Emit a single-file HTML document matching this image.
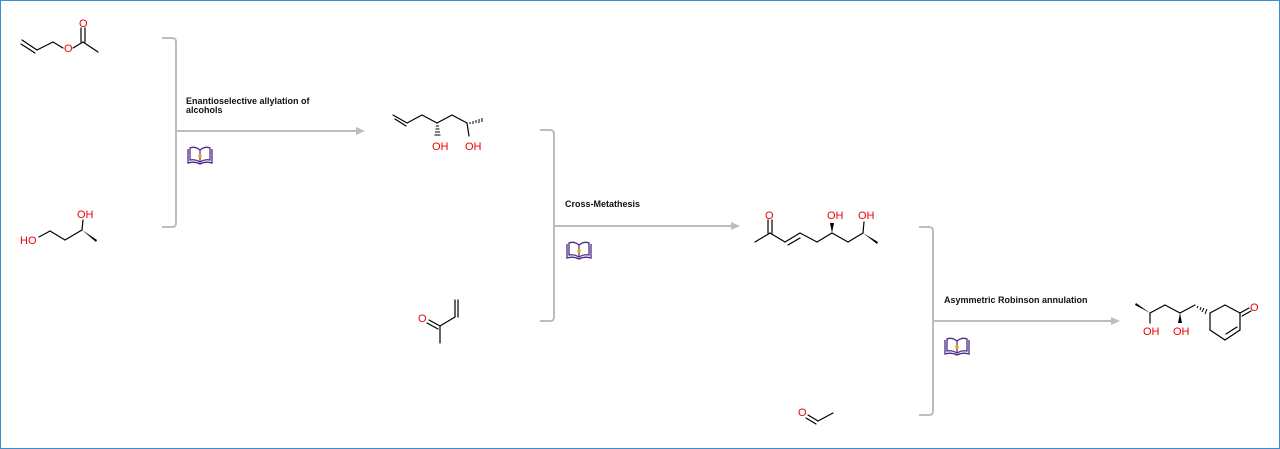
<!DOCTYPE html>
<html><head><meta charset="utf-8"><style>
html,body{margin:0;padding:0;background:#fff;}
svg{display:block;}
text{font-family:"Liberation Sans",Arial,sans-serif;}
</style></head><body>
<svg width="1280" height="449" viewBox="0 0 1280 449" xmlns="http://www.w3.org/2000/svg">
<defs>
<g id="book">
<path d="M1,3 L1,17 Q7,15 13,18 Q19,15 25,17 L25,3" fill="none" stroke="#4b2a8a" stroke-width="1.3"/>
<path d="M3,2 L3,14 Q8,13 13,16 Q18,13 23,14 L23,2 Q18,0 13,4 Q8,0 3,2 Z" fill="none" stroke="#4b2a8a" stroke-width="1.3"/>
<line x1="13" y1="4" x2="13" y2="16" stroke="#4b2a8a" stroke-width="1.2"/>
<circle cx="13" cy="10" r="1.8" fill="#f0a500"/>
</g>
</defs>
<rect x="0.5" y="0.5" width="1279" height="448" fill="#fff" stroke="#3a8fd0" stroke-width="1"/>
<g stroke="#bdbdbd" stroke-width="2" fill="none">
<path d="M162,38 H172 Q176,38 176,42 V223 Q176,227 172,227 H162"/>
<line x1="176" y1="131" x2="358" y2="131"/>
<path d="M540,130 H550 Q554,130 554,134 V317 Q554,321 550,321 H540"/>
<line x1="554" y1="226" x2="733" y2="226"/>
<path d="M919,227 H929 Q933,227 933,231 V411 Q933,415 929,415 H919"/>
<line x1="933" y1="321" x2="1113" y2="321"/>
</g>
<g fill="#bdbdbd">
<polygon points="365,131 356,127 356,135"/>
<polygon points="740,226 731,222 731,230"/>
<polygon points="1120,321 1111,317 1111,325"/>
</g>
<g font-size="9" font-weight="bold" fill="#111">
<text x="186" y="104">Enantioselective allylation of</text>
<text x="186" y="113">alcohols</text>
<text x="565" y="207">Cross-Metathesis</text>
<text x="944" y="303">Asymmetric Robinson annulation</text>
</g>
<use href="#book" x="187" y="146"/>
<use href="#book" x="566" y="241"/>
<use href="#book" x="944" y="337"/>

<g stroke="#000" stroke-width="1.2" fill="none" stroke-linecap="round">
<line x1="22" y1="40" x2="37" y2="50"/><line x1="21" y1="44" x2="35" y2="53"/>
<line x1="37" y1="50" x2="53" y2="42"/>
<line x1="53" y1="42" x2="63" y2="48"/>
<line x1="73" y1="48" x2="83" y2="42"/>
<line x1="83" y1="42" x2="98" y2="52"/>
<line x1="81" y1="42" x2="81" y2="28"/><line x1="85" y1="42" x2="85" y2="28"/>
<line x1="39" y1="237" x2="50" y2="231"/>
<line x1="50" y1="231" x2="65" y2="240"/>
<line x1="65" y1="240" x2="82" y2="230"/>
<line x1="82" y1="230" x2="83" y2="220"/>
<line x1="393" y1="115" x2="407" y2="123"/><line x1="395" y1="119" x2="406" y2="126"/>
<line x1="407" y1="123" x2="422" y2="115"/>
<line x1="422" y1="115" x2="437" y2="123"/>
<line x1="437" y1="123" x2="452" y2="115"/>
<line x1="452" y1="115" x2="467" y2="123"/>
<line x1="467" y1="123" x2="469" y2="136"/>
<line x1="429" y1="320" x2="440" y2="326"/><line x1="427" y1="323" x2="438" y2="329"/>
<line x1="440" y1="326" x2="440" y2="343"/>
<line x1="440" y1="326" x2="455" y2="317"/>
<line x1="455" y1="317" x2="455" y2="300"/><line x1="458" y1="317" x2="458" y2="300"/>
<line x1="755" y1="242" x2="770" y2="233"/>
<line x1="768" y1="233" x2="768" y2="220"/><line x1="772" y1="233" x2="772" y2="220"/>
<line x1="770" y1="233" x2="785" y2="242"/>
<line x1="785" y1="242" x2="800" y2="233"/><line x1="788" y1="245" x2="800" y2="238"/>
<line x1="800" y1="233" x2="817" y2="242"/>
<line x1="817" y1="242" x2="832" y2="233"/>
<line x1="832" y1="233" x2="848" y2="242"/>
<line x1="848" y1="242" x2="863" y2="233"/>
<line x1="863" y1="233" x2="864" y2="222"/>
<line x1="808" y1="415" x2="818" y2="421"/><line x1="806" y1="418" x2="816" y2="424"/>
<line x1="818" y1="421" x2="833" y2="413"/>
<line x1="1150" y1="313" x2="1165" y2="305"/>
<line x1="1165" y1="305" x2="1180" y2="313"/>
<line x1="1180" y1="313" x2="1195" y2="305"/>
<line x1="1210" y1="313" x2="1225" y2="305"/>
<line x1="1225" y1="305" x2="1240" y2="313"/>
<line x1="1240" y1="313" x2="1249" y2="308"/><line x1="1242" y1="316" x2="1251" y2="311"/>
<line x1="1240" y1="313" x2="1240" y2="330"/>
<line x1="1240" y1="330" x2="1225" y2="340"/><line x1="1237" y1="327" x2="1226" y2="334"/>
<line x1="1225" y1="340" x2="1210" y2="330"/>
<line x1="1210" y1="330" x2="1210" y2="313"/>
<line x1="1150" y1="313" x2="1150" y2="323"/>
</g>
<g fill="#000">
<polygon points="82,230 97,240 96,242"/>
<polygon points="832,233 834,223 830,223"/>
<polygon points="863,233 878,242 877,244"/>
<polygon points="1150,313 1135,305 1136,303"/>
<polygon points="1180,313 1182,323 1178,323"/>
</g>
<g stroke="#000" stroke-width="1">
<line x1="439" y1="126" x2="436" y2="126"/><line x1="439.5" y1="129" x2="435.5" y2="129"/><line x1="440" y1="132" x2="435" y2="132"/><line x1="440.5" y1="135" x2="434.5" y2="135"/>
<line x1="470" y1="122" x2="470" y2="124"/><line x1="473" y1="121" x2="473" y2="124"/><line x1="476" y1="120" x2="476" y2="123"/><line x1="479" y1="119" x2="479" y2="123"/><line x1="482" y1="118" x2="482" y2="122"/>
<line x1="1198" y1="306" x2="1197" y2="308"/><line x1="1201" y1="307" x2="1200" y2="310"/><line x1="1204" y1="308" x2="1202" y2="312"/><line x1="1207" y1="309" x2="1205" y2="314"/>
</g>
<g font-size="11" fill="#e00">
<text x="64" y="52">O</text>
<text x="79" y="27">O</text>
<text x="20" y="244">HO</text>
<text x="77" y="218">OH</text>
<text x="432" y="150">OH</text>
<text x="465" y="150">OH</text>
<text x="418" y="322">O</text>
<text x="765" y="219">O</text>
<text x="827" y="219">OH</text>
<text x="858" y="219">OH</text>
<text x="798" y="416">O</text>
<text x="1143" y="335">OH</text>
<text x="1173" y="335">OH</text>
<text x="1250" y="311">O</text>
</g>
</svg>
</body></html>
